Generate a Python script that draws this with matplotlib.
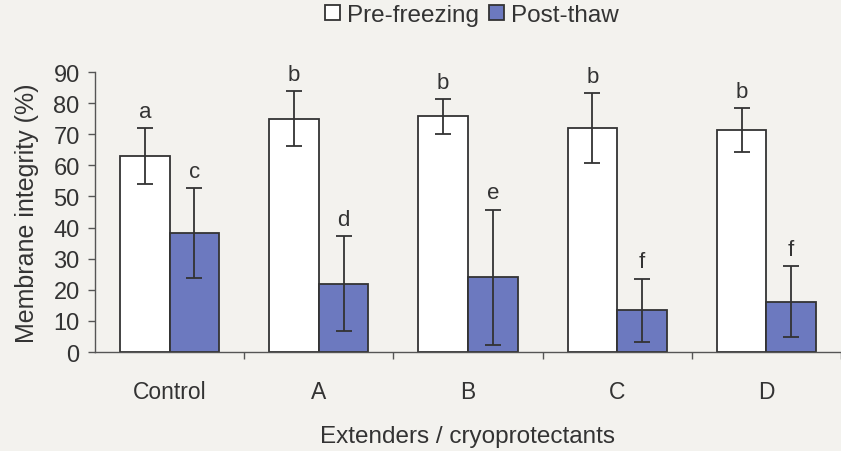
import matplotlib
matplotlib.use("Agg")
import matplotlib.pyplot as plt
import numpy as np

categories = ["Control", "A", "B", "C", "D"]
pre_freezing = [63, 75, 75.7, 72, 71.4]
pre_err = [9, 8.8, 5.7, 11.3, 7]
post_thaw = [38.2, 21.9, 24.1, 13.4, 16.1]
post_err = [14.4, 15.3, 21.7, 10.2, 11.4]
pre_letters = ["a", "b", "b", "b", "b"]
post_letters = ["c", "d", "e", "f", "f"]

plt.rcParams['font.family'] = ['Liberation Sans', 'DejaVu Sans']
bg = "#f3f2ee"
ink = "#333333"
blue = "#6c79bf"

fig = plt.figure(figsize=(8.41, 4.52), dpi=100, facecolor=bg)
ax = fig.add_axes([95/841, 1-353/452, (841-95)/841, (353-73)/452])
ax.set_facecolor(bg)

x = np.arange(len(categories))
w = 0.333
eb = dict(ecolor=ink, elinewidth=1.3, capsize=6, capthick=1.3)
b1 = ax.bar(x - w/2, pre_freezing, w, color="white", edgecolor=ink, linewidth=1.3,
            yerr=pre_err, error_kw=eb, label="Pre-freezing", zorder=2)
b2 = ax.bar(x + w/2, post_thaw, w, color=blue, edgecolor=ink, linewidth=1.3,
            yerr=post_err, error_kw=eb, label="Post-thaw", zorder=2)

for i in range(len(categories)):
    ax.text(x[i] - w/2, pre_freezing[i] + pre_err[i] + 2.0, pre_letters[i],
            ha="center", va="bottom", fontsize=16, color=ink)
    ax.text(x[i] + w/2, post_thaw[i] + post_err[i] + 2.0, post_letters[i],
            ha="center", va="bottom", fontsize=16, color=ink)

ax.set_xlim(-0.5, -0.5 + 746/150)
ax.set_ylim(0, 90)
ax.set_yticks(np.arange(0, 91, 10))
ax.set_xticks(x)
ax.set_xticklabels(categories)
ax.set_xticks(np.arange(-0.5, 5, 1)[1:], minor=True)
ax.tick_params(axis="x", which="major", length=0, pad=20, labelsize=16.5, colors=ink)
ax.tick_params(axis="x", which="minor", length=5, width=1, color="#555555", direction="out")
ax.tick_params(axis="y", length=5, width=1, color="#555555", labelsize=17, labelcolor=ink, pad=6)
for s in ["top", "right"]:
    ax.spines[s].set_visible(False)
for s in ["left", "bottom"]:
    ax.spines[s].set_color("#555555")
    ax.spines[s].set_linewidth(1)

ax.set_ylabel("Membrane integrity (%)", fontsize=18, color=ink, labelpad=10)
ax.set_xlabel("Extenders / cryoprotectants", fontsize=17.5, color=ink, labelpad=16)

leg = fig.legend(handles=[b1, b2], labels=["Pre-freezing", "Post-thaw"],
                 loc="center", bbox_to_anchor=(472/841, 1-16/452), ncol=2,
                 frameon=False, fontsize=17.5, handlelength=0.6, handleheight=0.6,
                 handletextpad=0.3, columnspacing=0.4, labelcolor=ink)

fig.savefig("out.png", dpi=100, facecolor=bg)
